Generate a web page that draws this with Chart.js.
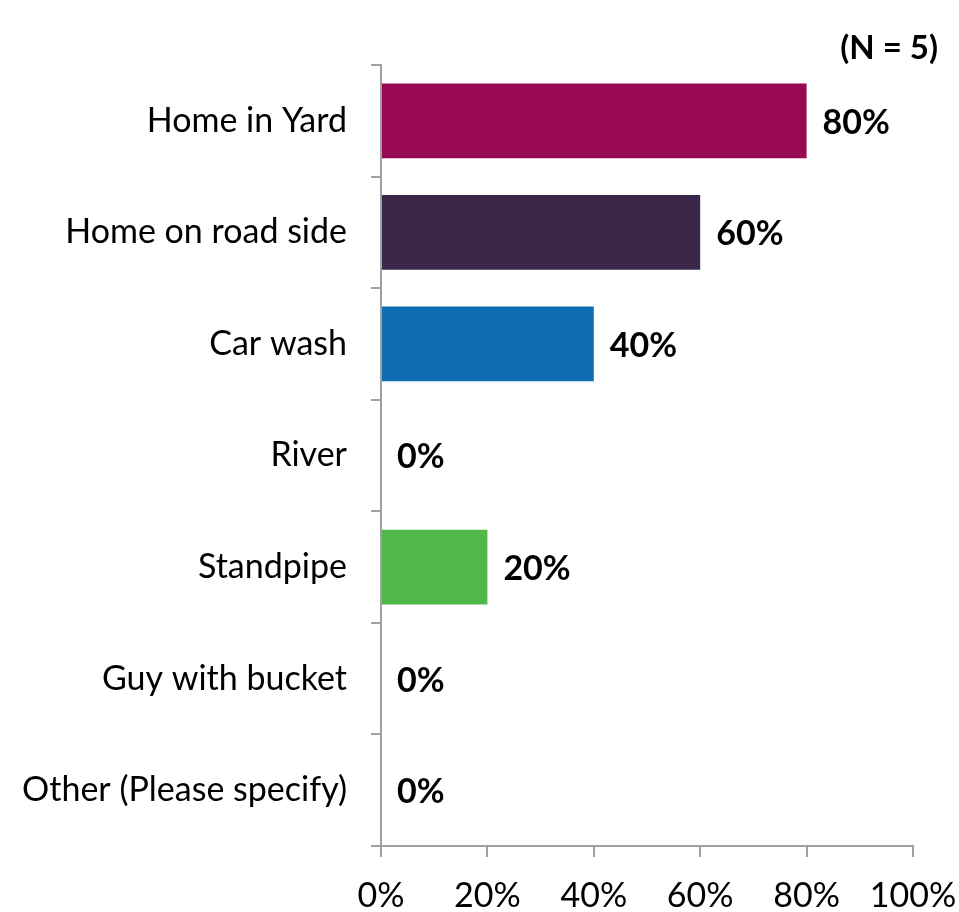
<!DOCTYPE html>
<html>
<head>
<meta charset="utf-8">
<script src="https://cdn.jsdelivr.net/npm/chart.js@4"></script>
<style>
  html, body { margin: 0; padding: 0; background: #fff; }
  #wrap { width: 959px; height: 912px; }
</style>
</head>
<body>
<div id="wrap"><canvas id="myChart" width="959" height="912"></canvas></div>
<script>
const categorias = ["Home in Yard", "Home on road side", "Car wash", "River", "Standpipe", "Guy with bucket", "Other (Please specify)"];
const valores = [80, 60, 40, 0, 20, 0, 0];
const colores = ["#970a52", "#3a2749", "#0f6db4", "#7f7f7f", "#4fb848", "#7f7f7f", "#7f7f7f"];
const ticksX = [0, 20, 40, 60, 80, 100];
const nota = "(N = 5)";

const fuente = "Lato, 'Open Sans', sans-serif";

// etiquetas de valor al final de cada barra
const etiquetas = {
  id: "etiquetas",
  afterDatasetsDraw(chart) {
    const ctx = chart.ctx;
    const meta = chart.getDatasetMeta(0);
    ctx.save();
    ctx.font = "bold 34px " + fuente;
    ctx.fillStyle = "#000";
    ctx.textAlign = "left";
    ctx.textBaseline = "middle";
    meta.data.forEach((bar, i) => {
      ctx.fillText(valores[i] + "%", bar.x + 16, bar.y + 2);
    });
    ctx.font = "bold 33px " + fuente;
    ctx.textAlign = "right";
    ctx.fillText(nota, 938, 48);
    ctx.restore();
  },
};

const ctx = document.getElementById("myChart");
const myChart = new Chart(ctx, {
  type: "bar",
  data: {
    labels: categorias,
    datasets: [
      {
        data: valores,
        backgroundColor: colores,
        borderWidth: 0,
        barPercentage: 0.67,
        categoryPercentage: 1,
      },
    ],
  },
  options: {
    indexAxis: "y",
    responsive: false,
    animation: false,
    layout: { padding: { top: 65, right: 46, left: 0, bottom: 0 } },
    plugins: { legend: { display: false }, tooltip: { enabled: false } },
    scales: {
      x: {
        min: 0,
        max: 100,
        afterBuildTicks: (scale) => {
          scale.ticks = ticksX.map((v) => ({ value: v }));
        },
        afterFit: (scale) => {
          scale.height = 66;
          scale.paddingLeft = 0;
          scale.paddingRight = 0;
        },
        border: { display: true, color: "#a0a0a0", width: 2 },
        grid: { drawOnChartArea: false, tickLength: 11, color: "#a0a0a0", lineWidth: 2 },
        ticks: {
          color: "#000",
          padding: 19,
          font: { family: fuente, size: 34 },
          callback: (v) => v + "%",
        },
      },
      y: {
        afterFit: (scale) => {
          scale.width = 381;
        },
        border: { display: true, color: "#a0a0a0", width: 2 },
        grid: { drawOnChartArea: false, tickLength: 10, color: "#a0a0a0", lineWidth: 2, offset: true },
        ticks: {
          color: "#000",
          padding: 24,
          font: { family: fuente, size: 34 },
        },
      },
    },
  },
  plugins: [etiquetas],
});
</script>
</body>
</html>
